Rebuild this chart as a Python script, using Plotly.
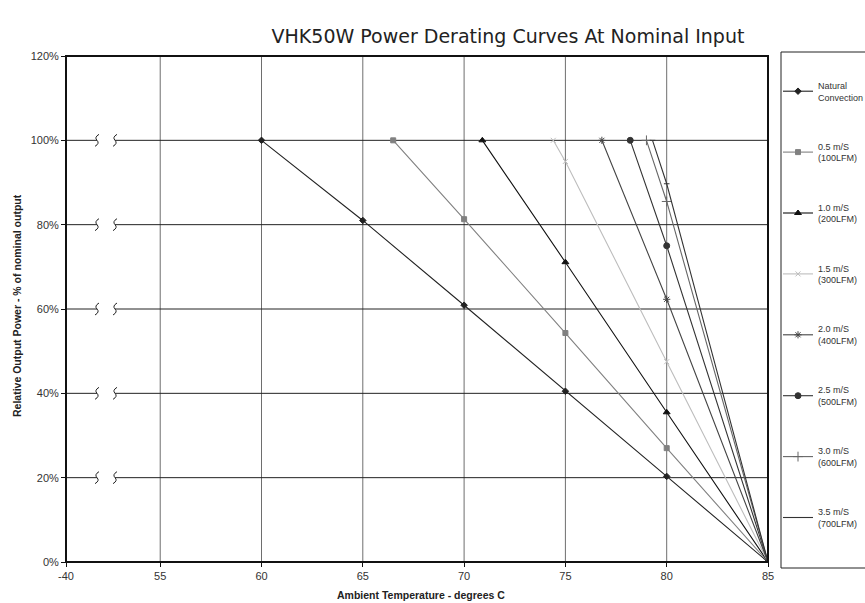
import plotly.graph_objects as go

# ---- data ----
x_tick_vals = [50.35, 55, 60, 65, 70, 75, 80, 85]
x_tick_text = ["-40", "55", "60", "65", "70", "75", "80", "85"]
y_tick_vals = [0, 20, 40, 60, 80, 100, 120]
y_tick_text = ["0%", "20%", "40%", "60%", "80%", "100%", "120%"]

nc_x = [60, 65, 70, 75, 80, 85]
nc_y = [100, 81, 60.9, 40.5, 20.3, 0]
s05_x = [66.5, 70, 75, 80, 85]
s05_y = [100, 81.3, 54.3, 27, 0]
s10_x = [70.9, 75, 80, 85]
s10_y = [100, 71.1, 35.5, 0]
s15_x = [74.4, 75, 80, 85]
s15_y = [100, 95, 47.5, 0]
s20_x = [76.8, 80, 85]
s20_y = [100, 62.3, 0]
s25_x = [78.2, 80, 85]
s25_y = [100, 75, 0]
s30_x = [79.0, 80, 85]
s30_y = [100, 85.5, 0]
s35_x = [79.3, 80, 85]
s35_y = [100, 89.7, 0]

series = [
    ("Natural<br>Convection", nc_x, nc_y, "#222222", "diamond", 5),
    ("0.5 m/S<br>(100LFM)", s05_x, s05_y, "#808080", "square", 5),
    ("1.0 m/S<br>(200LFM)", s10_x, s10_y, "#111111", "triangle-up", 6),
    ("1.5 m/S<br>(300LFM)", s15_x, s15_y, "#bdbdbd", "x-thin-open", 5),
    ("2.0 m/S<br>(400LFM)", s20_x, s20_y, "#444444", "asterisk-open", 6),
    ("2.5 m/S<br>(500LFM)", s25_x, s25_y, "#333333", "circle", 6),
    ("3.0 m/S<br>(600LFM)", s30_x, s30_y, "#666666", "cross-thin-open", 7),
    ("3.5 m/S<br>(700LFM)", s35_x, s35_y, "#333333", "line-ew-open", 4),
]

x_min, x_max = 50.35, 85
gap_l, gap_r = 51.88, 52.77

fig = go.Figure()
for i, (name, xs, ys, col, sym, sz) in enumerate(series):
    fig.add_trace(go.Scatter(
        x=xs, y=ys, name=name, mode="lines+markers",
        line=dict(color=col, width=1.1),
        marker=dict(symbol=sym, size=sz, color=col, line=dict(color=col, width=1)),
        legendgroup=f"g{i}",
    ))

shapes = []
for v in x_tick_vals[1:-1]:
    shapes.append(dict(type="line", xref="x", yref="y", x0=v, x1=v, y0=0, y1=120,
                       line=dict(color="#6e6e6e", width=1), layer="below"))
for yv in y_tick_vals[1:-1]:
    shapes.append(dict(type="line", xref="x", yref="y", x0=x_min, x1=gap_l, y0=yv, y1=yv,
                       line=dict(color="#222222", width=1), layer="below"))
    shapes.append(dict(type="line", xref="x", yref="y", x0=gap_r, x1=x_max, y0=yv, y1=yv,
                       line=dict(color="#222222", width=1), layer="below"))
    for bx in (gap_l, gap_r):
        shapes.append(dict(type="path", xref="x", yref="y", xsizemode="pixel", ysizemode="pixel",
                           xanchor=bx, yanchor=yv,
                           path="M 2,6 Q -3,3 0,0 Q 3,-3 -2,-6",
                           line=dict(color="#222222", width=1), layer="below"))
shapes.append(dict(type="rect", xref="paper", yref="paper", x0=0, x1=1, y0=0, y1=1,
                   line=dict(color="#111111", width=2)))
shapes.append(dict(type="rect", xref="paper", yref="paper",
                   x0=(781 - 66) / 702, x1=(870 - 66) / 702,
                   y0=-(568 - 562) / 506, y1=1 + (56 - 52) / 506,
                   line=dict(color="#222222", width=1)))

annotations = [
    dict(text="<b>Relative Output Power - % of nominal output</b>", textangle=-90,
         xref="paper", yref="paper", x=(17 - 66) / 702, y=(562 - 306) / 506,
         xanchor="center", yanchor="middle", showarrow=False,
         font=dict(size=10.5, color="#222222", family="Liberation Sans, Arial")),
    dict(text="<b>Ambient Temperature - degrees C</b>",
         xref="paper", yref="paper", x=(421 - 66) / 702, y=-(595 - 562) / 506,
         xanchor="center", yanchor="middle", showarrow=False,
         font=dict(size=10.5, color="#222222", family="Liberation Sans, Arial")),
]

fig.update_layout(
    width=865, height=603,
    margin=dict(l=66, r=97, t=56, b=41, autoexpand=False),
    paper_bgcolor="white", plot_bgcolor="white",
    title=dict(text="VHK50W Power Derating Curves At Nominal Input",
               x=508 / 865, xanchor="center", y=1 - 36 / 603, yanchor="middle",
               xref="container", yref="container",
               font=dict(family="DejaVu Sans", size=19, color="#222222")),
    font=dict(family="Liberation Sans, Arial", color="#333333"),
    shapes=shapes,
    annotations=annotations,
    showlegend=True,
    legend=dict(xref="container", yref="container",
                x=778 / 865, xanchor="left", y=1 - 73 / 603, yanchor="top",
                font=dict(size=9, family="Liberation Sans, Arial", color="#333333"),
                tracegroupgap=34.5, itemwidth=30, bgcolor="rgba(0,0,0,0)",
                borderwidth=0, maxheight=600),
    xaxis=dict(range=[x_min, x_max], tickvals=x_tick_vals, ticktext=x_tick_text,
               showgrid=False, zeroline=False, showline=False, automargin=False,
               ticks="outside", ticklen=4, tickcolor="#111111",
               tickfont=dict(size=11, color="#333333")),
    yaxis=dict(range=[0, 120], tickvals=y_tick_vals, ticktext=y_tick_text,
               showgrid=False, zeroline=False, showline=False, automargin=False,
               ticks="outside", ticklen=4, tickcolor="#111111",
               tickfont=dict(size=11, color="#333333")),
)

fig.write_html("out.html", config={"displayModeBar": False},
               post_script="document.body.style.margin='0';")
